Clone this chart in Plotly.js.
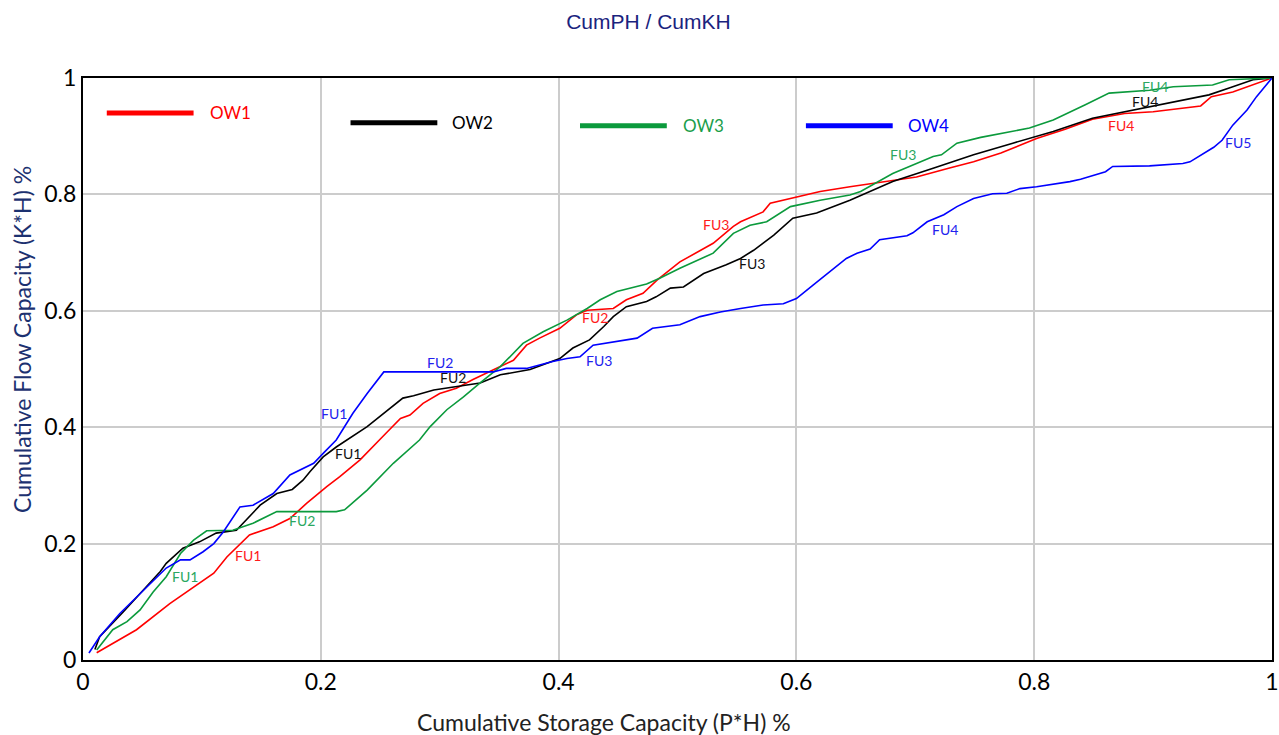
<!DOCTYPE html>
<html>
<head>
<meta charset="utf-8">
<script src="https://cdn.plot.ly/plotly-3.0.1.min.js"></script>
<style>html,body{margin:0;padding:0;background:#fff;}#chart{width:1279px;height:735px;}</style>
</head>
<body>
<div id="chart"></div>
<script>
// ---- Data ----
const seriesNames = ['OW1', 'OW2', 'OW3', 'OW4'];

const ow1X = [0.0115,0.045,0.073,0.098,0.110,0.121,0.140,0.160,0.174,0.188,0.205,0.216,0.233,0.255,0.267,0.275,0.286,0.300,0.314,0.328,0.345,0.362,0.373,0.384,0.401,0.415,0.424,0.446,0.457,0.471,0.483,0.502,0.530,0.547,0.553,0.572,0.578,0.595,0.620,0.645,0.668,0.701,0.728,0.749,0.772,0.802,0.826,0.849,0.876,0.900,0.940,0.949,0.967,1.0];
const ow1Y = [0.0125,0.052,0.097,0.132,0.149,0.177,0.215,0.229,0.243,0.269,0.298,0.315,0.344,0.390,0.415,0.421,0.441,0.458,0.467,0.482,0.498,0.515,0.541,0.553,0.570,0.593,0.601,0.604,0.619,0.630,0.653,0.684,0.716,0.745,0.753,0.770,0.785,0.793,0.805,0.813,0.820,0.830,0.845,0.856,0.871,0.896,0.912,0.929,0.939,0.942,0.952,0.968,0.976,1.0];

const ow2X = [0.010,0.014,0.034,0.065,0.070,0.084,0.098,0.112,0.129,0.149,0.163,0.176,0.185,0.191,0.202,0.213,0.239,0.255,0.269,0.278,0.295,0.334,0.351,0.376,0.390,0.401,0.412,0.426,0.438,0.446,0.457,0.474,0.482,0.494,0.505,0.522,0.541,0.553,0.564,0.581,0.597,0.617,0.645,0.681,0.715,0.749,0.782,0.816,0.849,0.883,0.917,0.947,0.964,0.984,1.0];
const ow2Y = [0.018,0.040,0.083,0.152,0.166,0.192,0.203,0.218,0.223,0.266,0.286,0.293,0.309,0.324,0.349,0.366,0.401,0.427,0.450,0.454,0.464,0.476,0.490,0.499,0.510,0.518,0.536,0.550,0.573,0.590,0.607,0.616,0.624,0.639,0.641,0.664,0.679,0.690,0.704,0.730,0.759,0.768,0.790,0.822,0.845,0.868,0.888,0.908,0.931,0.945,0.958,0.971,0.983,0.997,1.0];

const ow3X = [0.0115,0.025,0.037,0.048,0.059,0.070,0.082,0.093,0.104,0.126,0.143,0.163,0.213,0.220,0.239,0.250,0.261,0.283,0.292,0.306,0.320,0.334,0.351,0.370,0.387,0.407,0.424,0.435,0.449,0.474,0.485,0.502,0.530,0.547,0.561,0.575,0.595,0.620,0.645,0.654,0.681,0.715,0.722,0.735,0.755,0.796,0.816,0.843,0.863,0.897,0.917,0.950,0.964,1.0];
const ow3Y = [0.017,0.052,0.066,0.086,0.117,0.143,0.183,0.206,0.222,0.223,0.235,0.255,0.255,0.258,0.292,0.315,0.338,0.378,0.401,0.430,0.452,0.476,0.504,0.544,0.564,0.584,0.604,0.619,0.633,0.646,0.656,0.673,0.699,0.733,0.747,0.753,0.779,0.790,0.799,0.805,0.836,0.865,0.868,0.888,0.898,0.914,0.928,0.954,0.974,0.979,0.985,0.988,0.997,1.0];

const ow4X = [0.005,0.014,0.031,0.065,0.070,0.082,0.090,0.101,0.110,0.118,0.132,0.143,0.160,0.174,0.194,0.202,0.213,0.227,0.239,0.253,0.345,0.356,0.373,0.384,0.395,0.407,0.418,0.429,0.446,0.466,0.479,0.502,0.519,0.536,0.553,0.572,0.589,0.600,0.614,0.642,0.651,0.662,0.670,0.682,0.693,0.698,0.710,0.724,0.735,0.749,0.765,0.777,0.788,0.802,0.819,0.830,0.839,0.860,0.866,0.897,0.925,0.931,0.951,0.958,0.967,0.979,0.987,1.0];
const ow4Y = [0.012,0.040,0.080,0.149,0.158,0.172,0.172,0.186,0.200,0.220,0.263,0.266,0.286,0.318,0.338,0.355,0.378,0.424,0.458,0.495,0.495,0.501,0.501,0.507,0.513,0.518,0.521,0.541,0.547,0.553,0.570,0.576,0.590,0.598,0.604,0.610,0.612,0.621,0.644,0.690,0.699,0.706,0.722,0.725,0.729,0.734,0.753,0.765,0.779,0.793,0.801,0.802,0.810,0.813,0.818,0.822,0.826,0.839,0.848,0.849,0.853,0.856,0.881,0.893,0.919,0.945,0.968,1.0];

// flow-unit labels
const fuLabelSeries = [0,0,0,0, 1,1,1,1, 2,2,2,2, 3,3,3,3,3];
const fuLabelText   = ['FU1','FU2','FU3','FU4', 'FU1','FU2','FU3','FU4', 'FU1','FU2','FU3','FU4', 'FU1','FU2','FU3','FU4','FU5'];
const fuLabelX      = [0.139,0.431,0.532,0.873, 0.223,0.311,0.563,0.893, 0.086,0.184,0.690,0.902, 0.211,0.300,0.434,0.725,0.971];
const fuLabelY      = [0.179,0.589,0.749,0.919, 0.354,0.485,0.682,0.960, 0.144,0.239,0.868,0.986, 0.423,0.512,0.515,0.739,0.890];

const xTickVals = [0, 0.2, 0.4, 0.6, 0.8, 1];
const yTickVals = [0, 0.2, 0.4, 0.6, 0.8, 1];

const titleText  = 'CumPH / CumKH';
const xTitleText = 'Cumulative Storage Capacity (P*H) %';
const yTitleText = 'Cumulative Flow Capacity (K*H) %';

// ---- Styling ----
const lineColors  = ['#ff0000', '#000000', '#0b9a3c', '#0000ff'];
const labelColors = ['#ff1a1a', '#111111', '#2aa760', '#2222ee'];
const FONT = 'Lato, "Open Sans", sans-serif';

const xs = [ow1X, ow2X, ow3X, ow4X];
const ys = [ow1Y, ow2Y, ow3Y, ow4Y];

const traces = seriesNames.map((n, i) => ({
  type: 'scatter', mode: 'lines', name: n,
  x: xs[i], y: ys[i],
  line: {color: lineColors[i], width: 1.6},
  showlegend: false, hoverinfo: 'x+y+name'
}));

const annotations = fuLabelText.map((t, k) => ({
  x: fuLabelX[k], y: fuLabelY[k], xref: 'x', yref: 'y',
  text: t, showarrow: false,
  font: {family: FONT, size: 14, color: labelColors[fuLabelSeries[k]]}
}));

// axis titles (placed off-centre like the reference)
annotations.push({
  xref: 'paper', yref: 'paper', x: 0.438, y: -0.1065,
  xanchor: 'center', yanchor: 'middle', showarrow: false,
  text: xTitleText, font: {family: FONT, size: 23, color: '#222'}
});
annotations.push({
  xref: 'paper', yref: 'paper', x: -0.0513, y: 0.55,
  xanchor: 'center', yanchor: 'middle', showarrow: false, textangle: -90,
  text: yTitleText, font: {family: FONT, size: 23, color: '#1c3170'}
});

// custom legend (long line swatches, staggered like the reference)
const legPos = [
  {x0: 0.020, x1: 0.093, y: 0.940, tx: 0.105},
  {x0: 0.225, x1: 0.298, y: 0.923, tx: 0.309},
  {x0: 0.418, x1: 0.491, y: 0.918, tx: 0.503},
  {x0: 0.608, x1: 0.681, y: 0.918, tx: 0.692}
];
const shapes = legPos.map((p, i) => ({
  type: 'line', xref: 'paper', yref: 'paper',
  x0: p.x0, x1: p.x1, y0: p.y, y1: p.y,
  line: {color: lineColors[i], width: 5}
}));
legPos.forEach((p, i) => annotations.push({
  xref: 'paper', yref: 'paper', x: p.tx, y: p.y,
  xanchor: 'left', yanchor: 'middle', showarrow: false,
  text: seriesNames[i],
  font: {family: FONT, size: 17, color: i === 2 ? '#1a9e4a' : lineColors[i]}
}));

const layout = {
  width: 1279, height: 735,
  margin: {l: 83, r: 7, t: 78, b: 75},
  paper_bgcolor: '#ffffff', plot_bgcolor: '#ffffff',
  showlegend: false,
  title: {
    text: titleText,
    font: {family: '"Liberation Sans Narrow", "Liberation Sans", Arial, sans-serif', size: 21, color: '#1a237e'},
    xref: 'container', yref: 'container', x: 0.507, y: 0.970,
    xanchor: 'center', yanchor: 'middle'
  },
  xaxis: {
    range: [0, 1], tickvals: xTickVals, ticktext: xTickVals.map(String),
    showgrid: true, gridcolor: '#cccccc', gridwidth: 1.5,
    zeroline: false, showline: true, linecolor: '#000000', linewidth: 2, mirror: true,
    ticks: '', tickfont: {family: FONT, size: 23, color: '#000'}
  },
  yaxis: {
    range: [0, 1], tickvals: yTickVals, ticktext: yTickVals.map(String),
    showgrid: true, gridcolor: '#cccccc', gridwidth: 1.5,
    zeroline: false, showline: true, linecolor: '#000000', linewidth: 2, mirror: true,
    ticks: '', tickfont: {family: FONT, size: 23, color: '#000'}
  },
  shapes: shapes,
  annotations: annotations
};

Plotly.newPlot('chart', traces, layout, {displayModeBar: false, staticPlot: false});
</script>
</body>
</html>
